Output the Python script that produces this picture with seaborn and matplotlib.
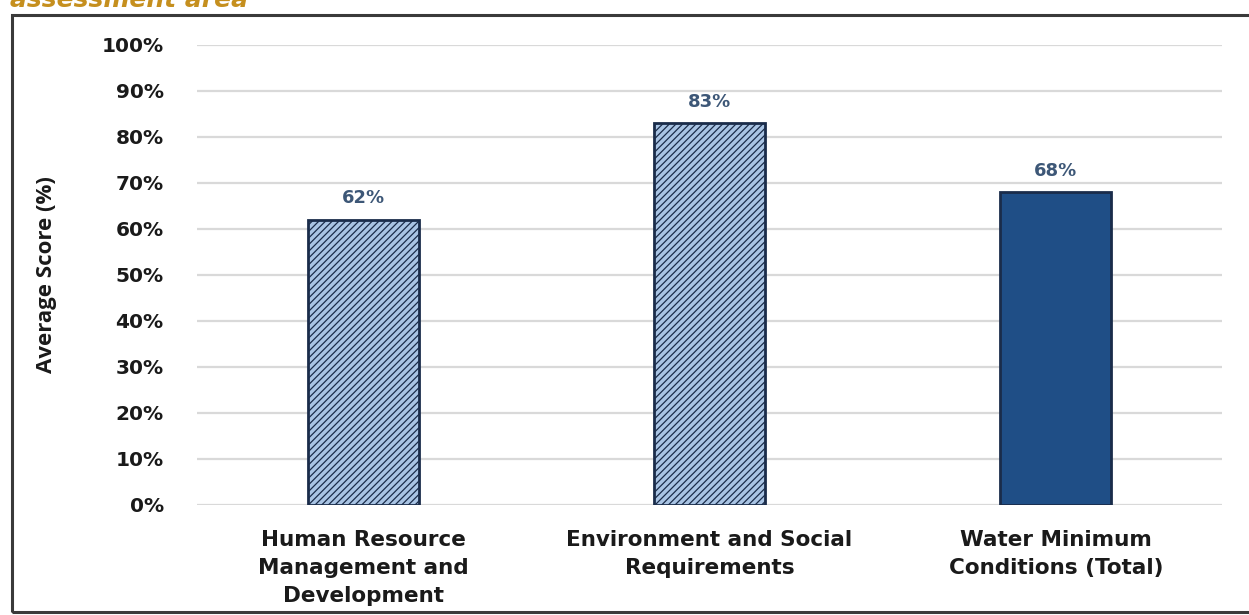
import matplotlib
matplotlib.use("Agg")
import matplotlib.pyplot as plt
import matplotlib.patches as mpatches
from matplotlib.ticker import MultipleLocator, PercentFormatter
import seaborn as sns

categories = [
    "Human Resource\nManagement and\nDevelopment",
    "Environment and Social\nRequirements",
    "Water Minimum\nConditions (Total)",
]
scores = [0.62, 0.83, 0.68]
value_labels = ["62%", "83%", "68%"]
bar_colors = ["#A9C4E4", "#A9C4E4", "#1F4E86"]
hatched = [True, True, False]

sns.set_style("white")
plt.rcParams["font.family"] = ["DejaVu Sans"]
plt.rcParams["hatch.linewidth"] = 0.9

fig = plt.figure(figsize=(12.49, 6.15), dpi=100)
ax = fig.add_axes([197 / 1249, 0.179, 1025 / 1249, 0.748])

sns.barplot(x=categories, y=scores, hue=categories, palette=bar_colors,
            legend=False, width=0.32, ax=ax, saturation=1)

for patch, h in zip(ax.patches, hatched):
    patch.set_edgecolor("#1A2C4A")
    patch.set_linewidth(2.0)
    if h:
        patch.set_hatch("/////")
    patch.set_zorder(3)

for i, (v, lab) in enumerate(zip(scores, value_labels)):
    ax.text(i, v + 0.027, lab, ha="center", va="bottom", fontsize=13,
            fontweight="bold", color="#3D5777")

ax.set_ylim(0, 1.0)
ax.set_xlim(-0.48, 2.48)
ax.yaxis.set_major_locator(MultipleLocator(0.1))
ax.yaxis.set_major_formatter(PercentFormatter(1.0, decimals=0))
ax.grid(axis="y", color="#D9D9D9", linewidth=1.6, zorder=0)
ax.set_axisbelow(True)
for s in ax.spines.values():
    s.set_visible(False)
ax.tick_params(axis="y", length=0, pad=24, labelsize=14.5, labelcolor="#1a1a1a")
ax.tick_params(axis="x", length=0, pad=18, labelsize=15.5, labelcolor="#1a1a1a")
for t in ax.get_yticklabels():
    t.set_fontweight("bold")
for t in ax.get_xticklabels():
    t.set_fontweight("bold")
    t.set_linespacing(1.5)
ax.set_ylabel("Average Score (%)", fontsize=16, color="#1a1a1a",
              family="Open Sans", fontweight="bold", labelpad=32)

# outer frame around the chart
frame = mpatches.Rectangle((12 / 1249, 3 / 615), 1.05, 597 / 615,
                           transform=fig.transFigure, fill=False,
                           edgecolor="#3a3a3a", linewidth=2.2, clip_on=False)
fig.patches.append(frame)

# caption line running off the top edge
fig.text(10 / 1249, 1.0, "assessment area", ha="left", va="center",
         fontsize=18, fontweight="bold", fontstyle="italic", color="#C58F1E")

fig.savefig("out.png", dpi=100)
